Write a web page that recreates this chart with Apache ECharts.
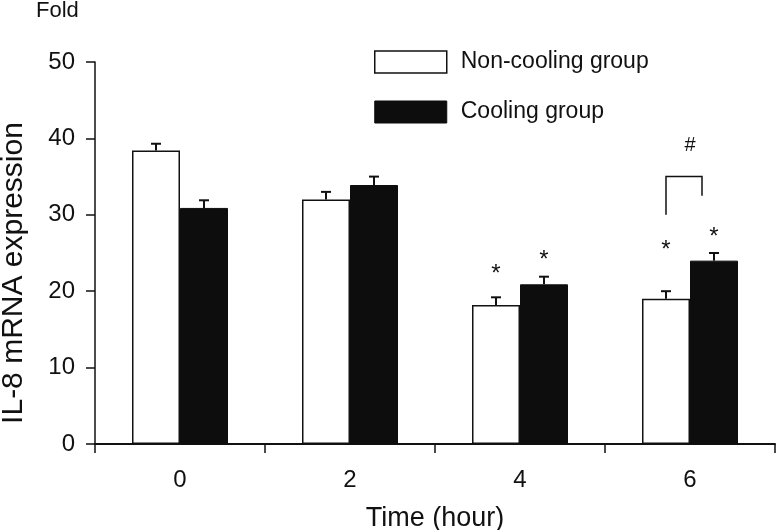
<!DOCTYPE html>
<html>
<head>
<meta charset="utf-8">
<script src="https://cdn.jsdelivr.net/npm/echarts@6/dist/echarts.min.js"></script>
<style>
html,body{margin:0;padding:0;background:#fff;}
#chart{width:776px;height:530px;}
</style>
</head>
<body>
<div id="chart"></div>
<script>
// ---- data ----
const categories = ['0', '2', '4', '6'];
const nonCooling = [38.4, 32.0, 18.2, 19.0];
const nonCoolingErr = [0.9, 1.0, 1.0, 1.0];
const cooling = [30.9, 33.9, 20.9, 24.0];
const coolingErr = [1.0, 1.1, 1.0, 1.0];
// significance marks (value level of the mark)
const starNonCooling = [null, null, 22.9, 26.0];
const starCooling = [null, null, 24.7, 27.7];
// bracket between groups at 6 h: [category index, top, left end, right end]
const bracket = [[3, 35.0, 30.0, 32.5]];
const hashMark = [[3, 39.1]];
const yTicks = [0, 10, 20, 30, 40, 50];

const FONT = '"Liberation Sans", Arial, Helvetica, sans-serif';
const INK = '#111';
const BAR_W = 48;

const chart = echarts.init(document.getElementById('chart'));

function errData(vals, errs) {
  return vals.map((v, i) => [i, v, v + errs[i]]);
}
function errRender(offsetSign) {
  return function (params, api) {
    const cat = api.value(0);
    const top = api.coord([cat, api.value(2)]);
    const base = api.coord([cat, api.value(1)]);
    const x = top[0] + offsetSign * BAR_W / 2;
    return {
      type: 'group',
      children: [
        { type: 'line', shape: { x1: x, y1: base[1], x2: x, y2: top[1] }, style: { stroke: INK, lineWidth: 2 } },
        { type: 'line', shape: { x1: x - 5, y1: top[1], x2: x + 5, y2: top[1] }, style: { stroke: INK, lineWidth: 2 } }
      ]
    };
  };
}
function starData(arr) {
  const out = [];
  arr.forEach((v, i) => { if (v != null) out.push([i, v]); });
  return out;
}
function starRender(offsetSign) {
  return function (params, api) {
    const p = api.coord([api.value(0), api.value(1)]);
    return {
      type: 'text',
      x: p[0] + offsetSign * BAR_W / 2,
      y: p[1] + 5,
      style: { text: '*', font: '24px ' + FONT, fill: INK, align: 'center', verticalAlign: 'middle' }
    };
  };
}

const option = {
  animation: false,
  backgroundColor: '#fff',
  textStyle: { fontFamily: FONT, color: INK },
  title: {
    text: 'Fold',
    left: 36,
    top: 0,
    padding: 0,
    textStyle: { fontFamily: FONT, fontSize: 22, fontWeight: 'normal', color: INK }
  },
  legend: {
    orient: 'vertical',
    left: 374,
    top: 50,
    padding: 0,
    itemWidth: 72,
    itemHeight: 22,
    itemGap: 26,
    selectedMode: false,
    textStyle: { fontFamily: FONT, fontSize: 23, color: INK, padding: [2, 0, 0, 9], lineHeight: 22 },
    data: [
      { name: 'Non-cooling group', icon: 'rect', itemStyle: { color: '#fff', borderColor: INK, borderWidth: 1.5 } },
      { name: 'Cooling group', icon: 'rect', itemStyle: { color: '#0d0d0d', borderColor: '#0d0d0d', borderWidth: 1 } }
    ]
  },
  grid: { left: 95, right: 1, top: 62, bottom: 86, containLabel: false, outerBoundsMode: 'none' },
  xAxis: {
    type: 'category',
    data: categories,
    name: 'Time (hour)',
    nameLocation: 'middle',
    nameGap: 61,
    nameTextStyle: { fontFamily: FONT, fontSize: 27, color: INK },
    axisLine: { show: true, lineStyle: { color: INK, width: 2 } },
    axisTick: { show: true, inside: false, length: 9, lineStyle: { color: INK, width: 1.5 } },
    axisLabel: { fontFamily: FONT, fontSize: 24, color: INK, margin: 24 },
    splitLine: { show: false }
  },
  yAxis: {
    type: 'value',
    min: yTicks[0],
    max: yTicks[yTicks.length - 1],
    interval: yTicks[1] - yTicks[0],
    name: 'IL-8 mRNA expression',
    nameLocation: 'middle',
    nameGap: 66,
    nameTextStyle: { fontFamily: FONT, fontSize: 30, color: INK, padding: [0, 40, 0, 0] },
    axisLine: { show: true, lineStyle: { color: INK, width: 1.5 } },
    axisTick: { show: true, inside: false, length: 9, lineStyle: { color: INK, width: 1.5 } },
    axisLabel: { fontFamily: FONT, fontSize: 24, color: INK, margin: 20 },
    splitLine: { show: false }
  },
  series: [
    {
      name: 'Non-cooling group',
      type: 'bar',
      data: nonCooling,
      barWidth: BAR_W,
      barGap: '0%',
      itemStyle: { color: '#fff', borderColor: INK, borderWidth: 1.5 },
      z: 2
    },
    {
      name: 'Cooling group',
      type: 'bar',
      data: cooling,
      barWidth: BAR_W,
      barGap: '0%',
      itemStyle: { color: '#0d0d0d', borderColor: '#0d0d0d', borderWidth: 1 },
      z: 2
    },
    {
      type: 'custom',
      data: errData(nonCooling, nonCoolingErr),
      renderItem: errRender(-1),
      z: 3, silent: true
    },
    {
      type: 'custom',
      data: errData(cooling, coolingErr),
      renderItem: errRender(1),
      z: 3, silent: true
    },
    {
      type: 'custom',
      data: starData(starNonCooling),
      renderItem: starRender(-1),
      z: 4, silent: true
    },
    {
      type: 'custom',
      data: starData(starCooling),
      renderItem: starRender(1),
      z: 4, silent: true
    },
    {
      type: 'custom',
      data: bracket,
      renderItem: function (params, api) {
        const cat = api.value(0);
        const top = api.coord([cat, api.value(1)]);
        const lb = api.coord([cat, api.value(2)]);
        const rb = api.coord([cat, api.value(3)]);
        const xl = top[0] - BAR_W / 2;
        const xr = top[0] + BAR_W / 4;
        return {
          type: 'polyline',
          shape: { points: [[xl, lb[1]], [xl, top[1]], [xr, top[1]], [xr, rb[1]]] },
          style: { stroke: INK, lineWidth: 1.5, fill: null }
        };
      },
      z: 4, silent: true
    },
    {
      type: 'custom',
      data: hashMark,
      renderItem: function (params, api) {
        const p = api.coord([api.value(0), api.value(1)]);
        return {
          type: 'text',
          x: p[0],
          y: p[1],
          style: { text: '#', font: '20px ' + FONT, fill: INK, align: 'center', verticalAlign: 'middle' }
        };
      },
      z: 4, silent: true
    }
  ]
};
chart.setOption(option);
</script>
</body>
</html>
